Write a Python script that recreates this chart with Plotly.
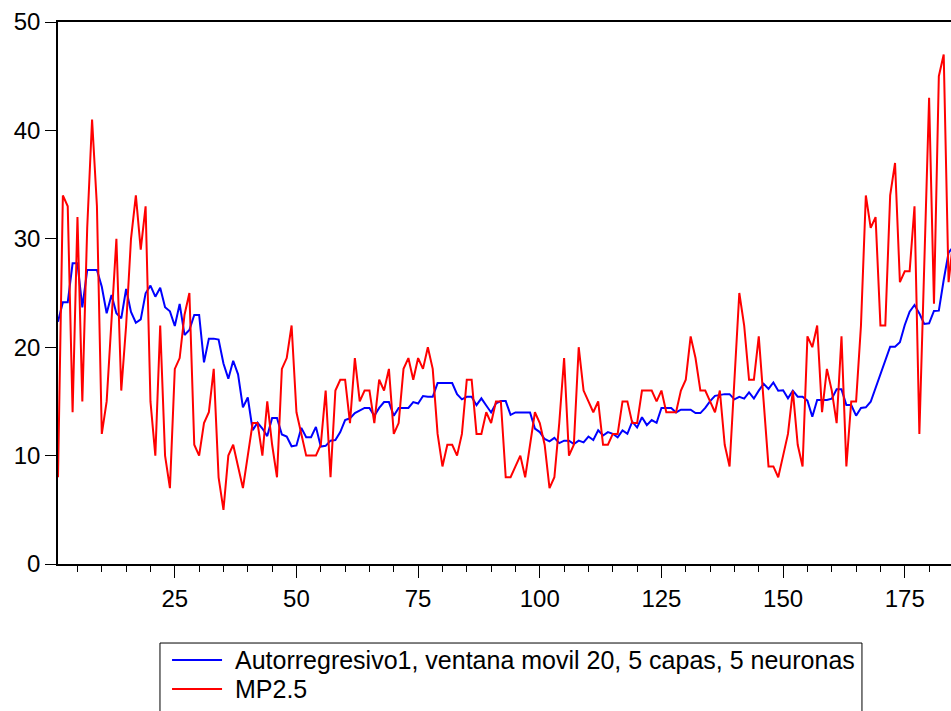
import plotly.graph_objects as go

# Observation index (1..185)
obs = list(range(1, 186))

# Fitted series: autoregressive network, moving window 20, 5 layers, 5 neurons
autorregresivo1 = [
    22.35, 24.14, 24.14, 27.74, 27.74, 23.68, 27.12, 27.12, 27.12, 25.58,
    23.13, 24.82, 23.13, 22.66, 25.37, 23.25, 22.26, 22.57, 24.97, 25.68,
    24.66, 25.49, 23.68, 23.31, 21.96, 23.99, 21.13, 21.59, 22.97, 22.97,
    18.60, 20.79, 20.79, 20.70, 18.50, 17.10, 18.75, 17.50, 14.45, 15.36,
    12.35, 13.03, 12.50, 11.80, 13.47, 13.47, 11.95, 11.75, 10.86, 10.94,
    12.56, 11.70, 11.70, 12.65, 10.83, 10.90, 11.38, 11.44, 12.17, 13.28,
    13.44, 13.92, 14.14, 14.40, 14.40, 13.67, 14.40, 14.94, 14.94, 13.67,
    14.40, 14.40, 14.40, 14.94, 14.80, 15.50, 15.42, 15.42, 16.69, 16.69,
    16.69, 16.69, 15.67, 15.19, 15.42, 15.42, 14.65, 15.28, 14.62, 13.98,
    14.81, 15.03, 15.03, 13.76, 13.98, 13.98, 13.98, 13.98, 12.49, 12.17,
    11.53, 11.31, 11.63, 11.15, 11.38, 11.38, 11.06, 11.38, 11.22, 11.76,
    11.44, 12.33, 11.85, 12.17, 12.01, 11.69, 12.33, 12.01, 13.13, 12.59,
    13.54, 12.81, 13.28, 13.03, 14.40, 14.40, 14.40, 13.98, 14.24, 14.24,
    14.24, 13.92, 13.92, 14.40, 15.03, 15.51, 15.61, 15.67, 15.67, 15.19,
    15.42, 15.26, 15.83, 15.26, 15.99, 16.62, 16.15, 16.75, 15.99, 16.02,
    15.28, 15.99, 15.44, 15.44, 15.07, 13.59, 15.13, 15.13, 15.13, 15.25,
    16.11, 16.11, 14.67, 14.67, 13.68, 14.40, 14.45, 14.97, 16.20, 17.44,
    18.82, 20.05, 20.05, 20.45, 22.05, 23.28, 23.89, 23.12, 22.14, 22.20,
    23.34, 23.37, 26.20, 28.72, 29.30,
]

# Observed MP2.5 concentration
mp25 = [
    8, 34, 33, 14, 32, 15, 31, 41, 33, 12,
    15, 23, 30, 16, 22, 30, 34, 29, 33, 15,
    10, 22, 10, 7, 18, 19, 23, 25, 11, 10,
    13, 14, 18, 8, 5, 10, 11, 9, 7, 10,
    13, 13, 10, 15, 11, 8, 18, 19, 22, 14,
    12, 10, 10, 10, 11, 16, 8, 16, 17, 17,
    13, 19, 15, 16, 16, 13, 17, 16, 18, 12,
    13, 18, 19, 17, 19, 18, 20, 18, 12, 9,
    11, 11, 10, 12, 17, 17, 12, 12, 14, 13,
    15, 15, 8, 8, 9, 10, 8, 11, 14, 13,
    11, 7, 8, 13, 19, 10, 11, 20, 16, 15,
    14, 15, 11, 11, 12, 12, 15, 15, 13, 13,
    16, 16, 16, 15, 16, 14, 14, 14, 16, 17,
    21, 19, 16, 16, 15, 14, 16, 11, 9, 17,
    25, 22, 17, 17, 21, 15, 9, 9, 8, 10,
    12, 16, 11, 9, 21, 20, 22, 14, 18, 16,
    13, 21, 9, 15, 15, 22, 34, 31, 32, 22,
    22, 34, 37, 26, 27, 27, 33, 12, 28, 43,
    24, 45, 47, 26, 30,
]

series_names = [
    "Autorregresivo1, ventana movil 20, 5 capas, 5 neuronas",
    "MP2.5",
]
series_colors = ["#0000FF", "#FF0000"]

FONT = "Arial, 'Liberation Sans', sans-serif"

fig = go.Figure()
for name, values, color in zip(series_names, [autorregresivo1, mp25], series_colors):
    fig.add_trace(go.Scatter(
        x=obs, y=values, mode="lines", name=name,
        line=dict(color=color, width=2), showlegend=False,
    ))

# Legend box below the plot, drawn in paper coordinates so its tight
# row spacing does not push the plot margins around.
legend_left, legend_right = 0.1142, 0.9003
legend_top, legend_bottom = -0.1458, -0.28
row_y = [-0.1771, -0.2306]
fig.add_shape(type="rect", xref="paper", yref="paper",
              x0=legend_left, x1=legend_right, y0=legend_bottom, y1=legend_top,
              line=dict(color="black", width=1), fillcolor="white", layer="above")
for name, color, yy in zip(series_names, series_colors, row_y):
    fig.add_shape(type="line", xref="paper", yref="paper",
                  x0=0.1277, x1=0.1837, y0=yy, y1=yy,
                  line=dict(color=color, width=2))
    fig.add_annotation(xref="paper", yref="paper", x=0.196, y=yy,
                       xanchor="left", yanchor="middle", showarrow=False,
                       text=name, font=dict(family=FONT, size=25, color="black"))

fig.update_layout(
    width=951, height=711,
    margin=dict(l=58, r=0, t=22, b=147),
    paper_bgcolor="white", plot_bgcolor="white",
    font=dict(family=FONT, size=24, color="black"),
    showlegend=False,
)

fig.update_xaxes(
    range=[1, 184.5], showgrid=False, zeroline=False,
    showline=True, linecolor="black", linewidth=1.5, mirror=True,
    ticks="outside", ticklen=12, tickwidth=1, tickcolor="black",
    tick0=0, dtick=25,
    minor=dict(tick0=0, dtick=5, ticks="outside", ticklen=6,
               tickwidth=1, tickcolor="black", showgrid=False),
    tickfont=dict(family=FONT, size=24, color="black"),
)
fig.update_yaxes(
    range=[0, 50], showgrid=False, zeroline=False,
    showline=True, linecolor="black", linewidth=1.5,
    ticks="outside", ticklen=11, tickwidth=1, tickcolor="black",
    tick0=0, dtick=10,
    tickfont=dict(family=FONT, size=24, color="black"),
)

fig.write_html("out.html")
